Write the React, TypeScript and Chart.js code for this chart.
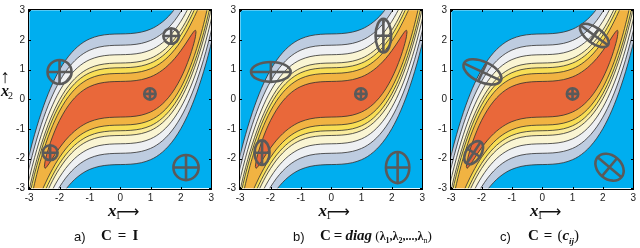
import React, { useEffect, useRef } from 'react';
import { Chart, registerables } from 'chart.js';

Chart.register(...registerables);

// ---- contour data ----
const xGrid = [-3.05, -2.9, -2.75, -2.6, -2.45, -2.3, -2.15, -2.0, -1.8, -1.6, -1.4, -1.2, -1.0, -0.7, -0.35, 0, 0.35, 0.7, 1.0, 1.2, 1.4, 1.6, 1.8, 2.0, 2.15, 2.3, 2.45, 2.6, 2.75, 2.9, 3.05];

const level1Upper = [-2.079, -1.474, -0.931, -0.446, -0.014, 0.367, 0.701, 0.99, 1.314, 1.572, 1.774, 1.927, 2.036, 2.137, 2.187, 2.2, 2.213, 2.263, 2.36, 2.465, 2.61, 2.8, 3.042, 3.342, 3.609, 3.915, 4.261, 4.65, 5.085, 5.568, 6.101];
const level1Lower = [-6.101, -5.568, -5.085, -4.65, -4.261, -3.915, -3.609, -3.342, -3.042, -2.8, -2.61, -2.465, -2.36, -2.263, -2.213, -2.2, -2.187, -2.137, -2.036, -1.927, -1.774, -1.572, -1.314, -0.99, -0.701, -0.367, 0.014, 0.446, 0.931, 1.474, 2.079];

const level2Upper = [-2.504, -1.89, -1.339, -0.847, -0.41, -0.026, 0.311, 0.603, 0.929, 1.189, 1.392, 1.546, 1.656, 1.756, 1.807, 1.82, 1.833, 1.882, 1.98, 2.084, 2.228, 2.417, 2.657, 2.955, 3.219, 3.522, 3.864, 4.249, 4.677, 5.152, 5.676];
const level2Lower = [-5.676, -5.152, -4.677, -4.249, -3.864, -3.522, -3.219, -2.955, -2.657, -2.417, -2.228, -2.084, -1.98, -1.882, -1.833, -1.82, -1.807, -1.756, -1.656, -1.546, -1.392, -1.189, -0.929, -0.603, -0.311, 0.026, 0.41, 0.847, 1.339, 1.89, 2.504];

const level3Upper = [-2.884, -2.257, -1.695, -1.195, -0.752, -0.362, -0.021, 0.274, 0.604, 0.866, 1.07, 1.225, 1.335, 1.436, 1.487, 1.5, 1.513, 1.562, 1.659, 1.763, 1.906, 2.094, 2.332, 2.626, 2.887, 3.186, 3.522, 3.901, 4.321, 4.786, 5.296];
const level3Lower = [-5.296, -4.786, -4.321, -3.901, -3.522, -3.186, -2.887, -2.626, -2.332, -2.094, -1.906, -1.763, -1.659, -1.562, -1.513, -1.5, -1.487, -1.436, -1.335, -1.225, -1.07, -0.866, -0.604, -0.274, 0.021, 0.362, 0.752, 1.195, 1.695, 2.257, 2.884];

const level4Upper = [-3.258, -2.606, -2.027, -1.514, -1.061, -0.664, -0.318, -0.018, 0.316, 0.581, 0.787, 0.943, 1.054, 1.156, 1.207, 1.22, 1.233, 1.282, 1.378, 1.481, 1.623, 1.809, 2.044, 2.334, 2.59, 2.884, 3.213, 3.582, 3.989, 4.436, 4.922];
const level4Lower = [-4.922, -4.436, -3.989, -3.582, -3.213, -2.884, -2.59, -2.334, -2.044, -1.809, -1.623, -1.481, -1.378, -1.282, -1.233, -1.22, -1.207, -1.156, -1.054, -0.943, -0.787, -0.581, -0.316, 0.018, 0.318, 0.664, 1.061, 1.514, 2.027, 2.606, 3.258];

const level5Upper = [-3.518, -2.834, -2.235, -1.709, -1.247, -0.843, -0.491, -0.188, 0.149, 0.417, 0.625, 0.782, 0.894, 0.996, 1.047, 1.06, 1.073, 1.122, 1.218, 1.32, 1.461, 1.645, 1.877, 2.164, 2.417, 2.705, 3.027, 3.387, 3.781, 4.209, 4.662];
const level5Lower = [-4.662, -4.209, -3.781, -3.387, -3.027, -2.705, -2.417, -2.164, -1.877, -1.645, -1.461, -1.32, -1.218, -1.122, -1.073, -1.06, -1.047, -0.996, -0.894, -0.782, -0.625, -0.417, -0.149, 0.188, 0.491, 0.843, 1.247, 1.709, 2.235, 2.834, 3.518];

const level6Upper = [-4.09, -3.196, -2.528, -1.968, -1.484, -1.067, -0.706, -0.395, -0.051, 0.221, 0.432, 0.59, 0.703, 0.806, 0.857, 0.87, 0.883, 0.932, 1.027, 1.128, 1.268, 1.449, 1.677, 1.957, 2.202, 2.481, 2.79, 3.128, 3.489, 3.846, 4.09];
const level6Lower = [-4.09, -3.846, -3.489, -3.128, -2.79, -2.481, -2.202, -1.957, -1.677, -1.449, -1.268, -1.128, -1.027, -0.932, -0.883, -0.87, -0.857, -0.806, -0.703, -0.59, -0.432, -0.221, 0.051, 0.395, 0.706, 1.067, 1.484, 1.968, 2.528, 3.196, 4.09];

const redGrid = [-2.5, -2.48, -2.45, -2.4, -2.3, -2.15, -2.0, -1.8, -1.6, -1.4, -1.2, -1.0, -0.7, -0.35, 0, 0.35, 0.7, 1.0, 1.2, 1.4, 1.6, 1.8, 2.0, 2.15, 2.3, 2.4, 2.45, 2.48, 2.5];
const level7Upper = [-2.269, -2.106, -1.967, -1.777, -1.453, -1.05, -0.715, -0.351, -0.067, 0.152, 0.315, 0.43, 0.535, 0.587, 0.6, 0.613, 0.661, 0.754, 0.853, 0.988, 1.162, 1.377, 1.638, 1.858, 2.095, 2.245, 2.307, 2.325, 2.269];
const level7Lower = [-2.269, -2.325, -2.307, -2.245, -2.095, -1.858, -1.638, -1.377, -1.162, -0.988, -0.853, -0.754, -0.661, -0.613, -0.6, -0.587, -0.535, -0.43, -0.315, -0.152, 0.067, 0.351, 0.715, 1.05, 1.453, 1.777, 1.967, 2.106, 2.269];

const levelColors = ['#BECCE0', '#EEF0F3', '#FAF5D3', '#FAEC9E', '#F8DE55', '#F1B342', '#E9683A'];
const fieldColor = '#00AEEF';
const fieldMin = -3.0;
const fieldMax = 3.0;

const tickValues = [-3, -2, -1, 0, 1, 2, 3];
const tickLabels = ['-3', '-2', '-1', '0', '1', '2', '3'];

// ellipses: centre (x, y), semi-axes a (along angle) and b, angle in degrees
const ellipsesA = [
  { x: -2.0, y: 0.92, a: 0.4, b: 0.4, angle: 0 },
  { x: 1.68, y: 2.13, a: 0.26, b: 0.26, angle: 0 },
  { x: 0.98, y: 0.18, a: 0.19, b: 0.19, angle: 0 },
  { x: -2.31, y: -1.8, a: 0.25, b: 0.25, angle: 0 },
  { x: 2.17, y: -2.3, a: 0.42, b: 0.42, angle: 0 },
];
const ellipsesB = [
  { x: -1.99, y: 0.92, a: 0.66, b: 0.33, angle: 0 },
  { x: 1.72, y: 2.14, a: 0.26, b: 0.56, angle: 0 },
  { x: 0.98, y: 0.18, a: 0.19, b: 0.19, angle: 0 },
  { x: -2.28, y: -1.8, a: 0.25, b: 0.41, angle: 0 },
  { x: 2.19, y: -2.3, a: 0.39, b: 0.52, angle: 0 },
];
const ellipsesC = [
  { x: -1.97, y: 0.92, a: 0.68, b: 0.34, angle: -25 },
  { x: 1.72, y: 2.15, a: 0.56, b: 0.26, angle: -36 },
  { x: 1.0, y: 0.18, a: 0.19, b: 0.19, angle: 0 },
  { x: -2.26, y: -1.8, a: 0.43, b: 0.25, angle: 57 },
  { x: 2.22, y: -2.29, a: 0.52, b: 0.39, angle: -40 },
];

const levels = [
  { grid: xGrid, upper: level1Upper, lower: level1Lower },
  { grid: xGrid, upper: level2Upper, lower: level2Lower },
  { grid: xGrid, upper: level3Upper, lower: level3Lower },
  { grid: xGrid, upper: level4Upper, lower: level4Lower },
  { grid: xGrid, upper: level5Upper, lower: level5Lower },
  { grid: xGrid, upper: level6Upper, lower: level6Lower },
  { grid: redGrid, upper: level7Upper, lower: level7Lower },
];

const serif = '"Liberation Serif", "DejaVu Serif", serif';
const sans = '"Liberation Sans", Arial, sans-serif';

const lineColor = '#2e2e2e';

function buildDatasets() {
  const out: any[] = [];
  levels.forEach((lv, k) => {
    out.push({
      data: lv.grid.map((x, i) => ({ x, y: lv.upper[i] })),
      fill: '+1',
      backgroundColor: levelColors[k],
      borderColor: lineColor,
      borderWidth: 0.8,
      pointRadius: 0,
      cubicInterpolationMode: 'monotone',
      order: 100 - 10 * k,
    });
    out.push({
      data: lv.grid.map((x, i) => ({ x, y: lv.lower[i] })),
      fill: false,
      borderColor: lineColor,
      borderWidth: 0.8,
      pointRadius: 0,
      cubicInterpolationMode: 'monotone',
      order: 99 - 10 * k,
    });
  });
  return out;
}

function makeFieldPlugin(ellipses: any[]) {
  return {
    id: 'field',
    beforeDatasetsDraw(chart: any) {
      const { ctx, scales } = chart;
      const x = scales.x, y = scales.y;
      const x0 = x.getPixelForValue(fieldMin), x1 = x.getPixelForValue(fieldMax);
      const y0 = y.getPixelForValue(fieldMax), y1 = y.getPixelForValue(fieldMin);
      ctx.save();
      ctx.fillStyle = fieldColor;
      ctx.fillRect(x0, y0, x1 - x0, y1 - y0);
      ctx.restore();
    },
    afterDatasetsDraw(chart: any) {
      const { ctx, chartArea: a, scales } = chart;
      const x = scales.x, y = scales.y;
      const x0 = x.getPixelForValue(fieldMin), x1 = x.getPixelForValue(fieldMax);
      const y0 = y.getPixelForValue(fieldMax), y1 = y.getPixelForValue(fieldMin);
      ctx.save();
      ctx.fillStyle = '#ffffff';
      ctx.fillRect(a.left - 1, a.top - 1, x0 - a.left + 1, a.height + 2);
      ctx.fillRect(x1, a.top - 1, a.right - x1 + 1, a.height + 2);
      ctx.fillRect(a.left - 1, a.top - 1, a.width + 2, y0 - a.top + 1);
      ctx.fillRect(a.left - 1, y1, a.width + 2, a.bottom - y1 + 1);

      // ellipses with their axes
      const sx = Math.abs(x.getPixelForValue(1) - x.getPixelForValue(0));
      const sy = Math.abs(y.getPixelForValue(1) - y.getPixelForValue(0));
      const s = (sx + sy) / 2;
      ctx.strokeStyle = '#5a5a5a';
      ctx.lineWidth = 2.6;
      for (const e of ellipses) {
        const cx = x.getPixelForValue(e.x), cy = y.getPixelForValue(e.y);
        const ra = e.a * s, rb = e.b * s;
        const rot = (-e.angle * Math.PI) / 180;
        const c = Math.cos(rot), sn = Math.sin(rot);
        ctx.beginPath();
        ctx.ellipse(cx, cy, ra, rb, rot, 0, Math.PI * 2);
        ctx.stroke();
        ctx.beginPath();
        ctx.moveTo(cx - ra * c, cy - ra * sn);
        ctx.lineTo(cx + ra * c, cy + ra * sn);
        ctx.moveTo(cx + rb * sn, cy - rb * c);
        ctx.lineTo(cx - rb * sn, cy + rb * c);
        ctx.stroke();
      }

      // frame with inward ticks
      ctx.strokeStyle = '#000';
      ctx.lineWidth = 1;
      const L = Math.round(a.left) + 0.5, R = Math.round(a.right) - 0.5;
      const T = Math.round(a.top) + 0.5, B = Math.round(a.bottom) - 0.5;
      ctx.strokeRect(L, T, R - L, B - T);
      ctx.beginPath();
      for (const v of tickValues) {
        const px = Math.round(x.getPixelForValue(v)) + 0.5;
        ctx.moveTo(px, B); ctx.lineTo(px, B - 2.5);
        ctx.moveTo(px, T); ctx.lineTo(px, T + 2.5);
        const py = Math.round(y.getPixelForValue(v)) + 0.5;
        ctx.moveTo(L, py); ctx.lineTo(L + 2.5, py);
        ctx.moveTo(R, py); ctx.lineTo(R - 2.5, py);
      }
      ctx.stroke();
      ctx.restore();
    },
  };
}

const CW = 217;
const CH = 248;

function Panel({ left, ellipses }: { left: number; ellipses: any[] }) {
  const ref = useRef<HTMLCanvasElement>(null);
  useEffect(() => {
    const tickFont = { family: sans, size: 10 };
    const chart = new Chart(ref.current as HTMLCanvasElement, {
      type: 'line',
      data: { datasets: buildDatasets() },
      options: {
        responsive: false,
        animation: false,
        devicePixelRatio: 1,
        events: [],
        layout: { padding: { left: 0, right: 4, top: 3.5, bottom: 0 } },
        plugins: { legend: { display: false }, tooltip: { enabled: false }, filler: { propagate: false } },
        scales: {
          x: {
            type: 'linear',
            min: -3.04,
            max: 3.04,
            afterBuildTicks: (sc: any) => { sc.ticks = tickValues.map((v) => ({ value: v })); },
            afterFit: (sc: any) => { sc.height = 58.5; },
            ticks: { callback: (_v: any, i: number) => tickLabels[i], font: tickFont, color: '#222', padding: 3, maxRotation: 0, autoSkip: false },
            grid: { display: false, drawTicks: false },
            border: { display: false },
          },
          y: {
            type: 'linear',
            min: -3.04,
            max: 3.04,
            afterBuildTicks: (sc: any) => { sc.ticks = tickValues.map((v) => ({ value: v })); },
            afterFit: (sc: any) => { sc.width = 28; },
            ticks: { callback: (_v: any, i: number) => tickLabels[i], font: tickFont, color: '#222', padding: 3, autoSkip: false },
            grid: { display: false, drawTicks: false },
            border: { display: false },
          },
        },
      } as any,
      plugins: [makeFieldPlugin(ellipses)],
    });
    return () => chart.destroy();
  }, []);
  return (
    <canvas
      ref={ref}
      width={CW}
      height={CH}
      style={{ position: 'absolute', left, top: 0, width: CW, height: CH }}
    />
  );
}

function Abs({ left, top, style, children }: any) {
  return (
    <div style={{ position: 'absolute', left, top, whiteSpace: 'nowrap', lineHeight: 1, color: '#111', ...style }}>
      {children}
    </div>
  );
}

function XTitle({ cx, sub }: { cx: number; sub: string }) {
  return (
    <>
      <Abs left={cx - 13} top={201} style={{ font: `bold italic 17px ${serif}` }}>x</Abs>
      <Abs left={cx - 5.5} top={210} style={{ font: `10px ${serif}` }}>{sub}</Abs>
      <Abs left={cx - 4.5} top={201.5} style={{ font: `16px "DejaVu Sans", sans-serif` }}>⟶</Abs>
    </>
  );
}

const panelLefts = [28, 238.5, 450];

export default function App() {
  return (
    <div style={{ position: 'absolute', left: 0, top: 0, width: 640, height: 248, background: '#fff', overflow: 'hidden' }}>
      <Panel left={panelLefts[0] - 28} ellipses={ellipsesA} />
      <Panel left={panelLefts[1] - 28} ellipses={ellipsesB} />
      <Panel left={panelLefts[2] - 28} ellipses={ellipsesC} />

      {/* y-axis title of panel a */}
      <Abs left={0.5} top={66} style={{ font: `19px ${serif}` }}>↑</Abs>
      <Abs left={1} top={82} style={{ font: `bold italic 16px ${serif}` }}>x</Abs>
      <Abs left={8} top={90} style={{ font: `10px ${serif}` }}>2</Abs>

      {/* x-axis titles */}
      <XTitle cx={panelLefts[0] + 93} sub="1" />
      <XTitle cx={panelLefts[1] + 93} sub="1" />
      <XTitle cx={panelLefts[2] + 93} sub="1" />

      {/* captions */}
      <Abs left={74} top={229} style={{ font: `13px ${sans}` }}>a)</Abs>
      <Abs left={101} top={227} style={{ font: `bold 15px ${serif}` }}>
        C<span style={{ margin: '0 6px' }}>=</span>I
      </Abs>

      <Abs left={293} top={229} style={{ font: `13px ${sans}` }}>b)</Abs>
      <Abs left={320} top={227} style={{ font: `bold 15px ${serif}` }}>
        C<span style={{ margin: '0 3px' }}>=</span>
        <i>diag</i>
        <span style={{ fontWeight: 'normal', fontSize: 13 }}> (</span>
        <span style={{ fontSize: 12 }}>λ<sub style={{ fontSize: 8 }}>1</sub>,λ<sub style={{ fontSize: 8 }}>2</sub>,...,λ<sub style={{ fontSize: 8, fontWeight: 'normal' }}>n</sub></span>
        <span style={{ fontWeight: 'normal', fontSize: 13 }}>)</span>
      </Abs>

      <Abs left={500} top={229} style={{ font: `13px ${sans}` }}>c)</Abs>
      <Abs left={528} top={227} style={{ font: `bold 15px ${serif}` }}>
        C<span style={{ margin: '0 5px' }}>=</span>
        <span style={{ fontWeight: 'normal' }}>(</span>
        <i>c</i>
        <sub style={{ fontSize: 9, fontStyle: 'italic' }}>ij</sub>
        <span style={{ fontWeight: 'normal' }}>)</span>
      </Abs>
    </div>
  );
}
